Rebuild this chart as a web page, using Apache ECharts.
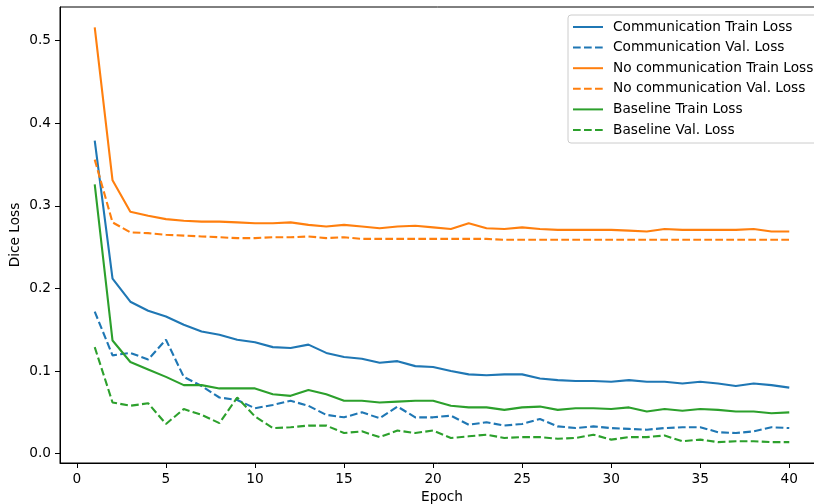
<!DOCTYPE html>
<html>
<head>
<meta charset="utf-8">
<script src="https://cdn.jsdelivr.net/npm/echarts@6/dist/echarts.min.js"></script>
<style>
  html, body { margin: 0; padding: 0; background: #fff; }
  #chart { width: 814px; height: 504px; }
</style>
</head>
<body>
<div id="chart"></div>
<script>
// 数据
var epochs = [1, 2, 3, 4, 5, 6, 7, 8, 9, 10, 11, 12, 13, 14, 15, 16, 17, 18, 19, 20,
    21, 22, 23, 24, 25, 26, 27, 28, 29, 30, 31, 32, 33, 34, 35, 36, 37, 38, 39, 40];
var commTrain = [0.379, 0.212, 0.184, 0.173, 0.166, 0.156, 0.148, 0.144, 0.138, 0.135,
    0.129, 0.128, 0.132, 0.122, 0.117, 0.115, 0.110, 0.112, 0.106, 0.105,
    0.100, 0.096, 0.095, 0.096, 0.096, 0.091, 0.089, 0.088, 0.088, 0.087,
    0.089, 0.087, 0.087, 0.085, 0.087, 0.085, 0.082, 0.085, 0.083, 0.080];
var commVal = [0.172, 0.119, 0.122, 0.114, 0.138, 0.093, 0.082, 0.068, 0.065, 0.055,
    0.059, 0.064, 0.058, 0.047, 0.044, 0.050, 0.043, 0.057, 0.044, 0.044,
    0.046, 0.035, 0.038, 0.034, 0.036, 0.042, 0.033, 0.031, 0.033, 0.031,
    0.030, 0.029, 0.031, 0.032, 0.032, 0.026, 0.025, 0.027, 0.032, 0.031];
var noCommTrain = [0.516, 0.331, 0.293, 0.288, 0.284, 0.282, 0.281, 0.281, 0.280, 0.279,
    0.279, 0.280, 0.277, 0.275, 0.277, 0.275, 0.273, 0.275, 0.276, 0.274,
    0.272, 0.279, 0.273, 0.272, 0.274, 0.272, 0.271, 0.271, 0.271, 0.271,
    0.270, 0.269, 0.272, 0.271, 0.271, 0.271, 0.271, 0.272, 0.269, 0.269];
var noCommVal = [0.356, 0.280, 0.268, 0.267, 0.265, 0.264, 0.263, 0.262, 0.261, 0.261,
    0.262, 0.262, 0.263, 0.261, 0.262, 0.260, 0.260, 0.260, 0.260, 0.260,
    0.260, 0.260, 0.260, 0.259, 0.259, 0.259, 0.259, 0.259, 0.259, 0.259,
    0.259, 0.259, 0.259, 0.259, 0.259, 0.259, 0.259, 0.259, 0.259, 0.259];
var baseTrain = [0.326, 0.137, 0.111, 0.102, 0.093, 0.083, 0.083, 0.079, 0.079, 0.079,
    0.072, 0.070, 0.077, 0.072, 0.064, 0.064, 0.062, 0.063, 0.064, 0.064,
    0.058, 0.056, 0.056, 0.053, 0.056, 0.057, 0.053, 0.055, 0.055, 0.054,
    0.056, 0.051, 0.054, 0.052, 0.054, 0.053, 0.051, 0.051, 0.049, 0.050];
var baseVal = [0.129, 0.062, 0.058, 0.061, 0.036, 0.054, 0.047, 0.037, 0.068, 0.045,
    0.031, 0.032, 0.034, 0.034, 0.025, 0.027, 0.020, 0.028, 0.025, 0.028,
    0.019, 0.021, 0.023, 0.019, 0.020, 0.020, 0.018, 0.019, 0.023, 0.017,
    0.020, 0.020, 0.022, 0.015, 0.017, 0.014, 0.015, 0.015, 0.014, 0.014];
var xTicks = [0, 5, 10, 15, 20, 25, 30, 35, 40];
var yTicks = [0, 0.1, 0.2, 0.3, 0.4, 0.5];

(function () {
    var myChart = echarts.init(document.getElementById('chart'), null, { renderer: 'canvas' });
    var font = 'DejaVu Sans';
    var fs = 13.7;

    // 把 epoch 和数值拼成点
    function pairs(vals) {
        return vals.map(function (v, i) { return [epochs[i], v]; });
    }
    function line(name, vals, color, dashed) {
        return {
            name: name,
            type: 'line',
            data: pairs(vals),
            symbol: 'none',
            lineStyle: {
                color: color,
                width: 2.1,
                type: dashed ? [7.7, 3.3] : 'solid'
            },
            itemStyle: { color: color },
            emphasis: { disabled: true }
        };
    }

    var option = {
        animation: false,
        grid: {
            left: 60,
            right: -10,
            top: 7,
            bottom: 41,
            containLabel: false,
            // 不让 v6 自动缩小绘图区
            outerBoundsMode: 'none',
            show: true,
            borderColor: '#000',
            borderWidth: 1,
            backgroundColor: 'transparent'
        },
        legend: {
            orient: 'vertical',
            left: 568,
            top: 15,
            padding: [5, 8, 6, 4],
            itemWidth: 30,
            itemHeight: 14,
            itemGap: 6.6,
            borderColor: '#cccccc',
            borderWidth: 1,
            borderRadius: 3,
            backgroundColor: 'rgba(255,255,255,0.8)',
            // 图例里只要线，不要圆点
            itemStyle: { opacity: 0 },
            textStyle: {
                fontFamily: font,
                fontSize: fs,
                color: '#000',
                padding: [0, 0, 0, 5]
            }
        },
        xAxis: {
            type: 'value',
            min: -0.95,
            max: 41.95,
            name: 'Epoch',
            nameLocation: 'middle',
            nameGap: 27,
            nameMoveOverlap: false,
            nameTextStyle: { fontFamily: font, fontSize: fs, color: '#000' },
            axisLine: { show: true, onZero: false, lineStyle: { color: '#000', width: 1 } },
            axisTick: { show: true, length: 5, customValues: xTicks, lineStyle: { color: '#000', width: 1 } },
            splitLine: { show: false },
            axisLabel: {
                customValues: xTicks,
                margin: 9,
                fontFamily: font,
                fontSize: fs,
                color: '#000'
            }
        },
        yAxis: {
            type: 'value',
            min: -0.0113,
            max: 0.5408,
            name: 'Dice Loss',
            nameLocation: 'middle',
            nameGap: 38,
            nameMoveOverlap: false,
            nameTextStyle: { fontFamily: font, fontSize: fs, color: '#000' },
            axisLine: { show: true, onZero: false, lineStyle: { color: '#000', width: 1 } },
            axisTick: { show: true, length: 5, customValues: yTicks, lineStyle: { color: '#000', width: 1 } },
            splitLine: { show: false },
            axisLabel: {
                customValues: yTicks,
                margin: 9,
                fontFamily: font,
                fontSize: fs,
                color: '#000',
                formatter: function (v) { return v.toFixed(1); }
            }
        },
        series: [
            line('Communication Train Loss', commTrain, '#1f77b4', false),
            line('Communication Val. Loss', commVal, '#1f77b4', true),
            line('No communication Train Loss', noCommTrain, '#ff7f0e', false),
            line('No communication Val. Loss', noCommVal, '#ff7f0e', true),
            line('Baseline Train Loss', baseTrain, '#2ca02c', false),
            line('Baseline Val. Loss', baseVal, '#2ca02c', true)
        ]
    };
    myChart.setOption(option);
})();
</script>
</body>
</html>
